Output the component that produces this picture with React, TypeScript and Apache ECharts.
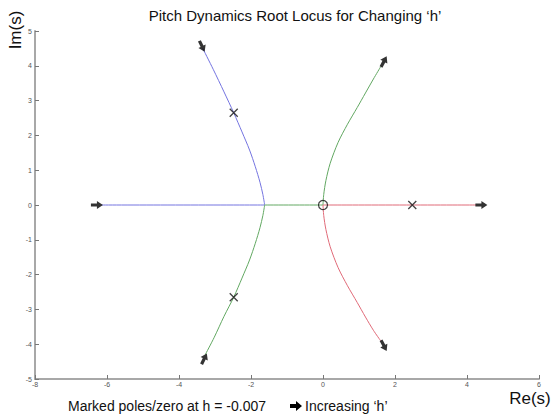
import React, { useEffect, useRef } from "react";
import * as echarts from "echarts";

const titleText = "Pitch Dynamics Root Locus for Changing \u2018h\u2019";
const noteText = "Marked poles/zero at h = -0.007";
const legendText = "Increasing \u2018h\u2019";

const blueCurve = [[-3.34, 4.5], [-3.05, 3.9], [-2.75, 3.25], [-2.48, 2.65], [-2.25, 2.1], [-2.04, 1.58], [-1.88, 1.1], [-1.75, 0.65], [-1.67, 0.3], [-1.62, 0]];
const blueAxis = [[-6.15, 0], [-1.62, 0]];
const greenCurveLeft = [[-1.62, 0], [-1.67, -0.3], [-1.75, -0.65], [-1.88, -1.1], [-2.04, -1.58], [-2.25, -2.1], [-2.48, -2.65], [-2.75, -3.2], [-3.02, -3.8], [-3.27, -4.3]];
const greenAxis = [[-1.62, 0], [0, 0]];
const greenCurveRight = [[0, 0], [0.02, 0.3], [0.08, 0.7], [0.2, 1.2], [0.42, 1.8], [0.68, 2.32], [0.95, 2.8], [1.18, 3.22], [1.4, 3.62], [1.6, 3.97]];
const redCurve = [[0, 0], [0.02, -0.3], [0.08, -0.7], [0.2, -1.2], [0.42, -1.8], [0.68, -2.32], [0.95, -2.8], [1.18, -3.22], [1.4, -3.6], [1.6, -3.9]];
const redAxis = [[0, 0], [4.25, 0]];

const poles = [[-2.48, 2.65], [-2.48, -2.65], [2.48, 0]];
const zeros = [[0, 0]];
// x, y, direction (degrees)
const arrows = [[-6.28, 0, 0], [4.4, 0, 0], [-3.36, 4.56, -64], [-3.3, -4.42, 64], [1.69, 4.12, 62], [1.69, -4.04, -62]];

const BLUE = "#7474e0";
const GREEN = "#62a862";
const RED = "#e06a78";
const ARROW = "path://M0,3L6,3L6,0L12,5L6,10L6,7L0,7Z";
const FONT = "Liberation Sans, Arial, sans-serif";

function lineSeries(data: number[][], color: string) {
  return {
    type: "line",
    data,
    showSymbol: false,
    symbol: "none",
    smooth: 0.3,
    lineStyle: { color, width: 1 },
    z: 2,
  };
}

export default function App() {
  const ref = useRef<HTMLDivElement>(null);
  useEffect(() => {
    if (!ref.current) return;
    const chart = echarts.init(ref.current, null, { renderer: "svg" });
    chart.setOption({
      animation: false,
      backgroundColor: "#ffffff",
      grid: { left: 35, right: 16, top: 31, bottom: 38, containLabel: false },
      title: {
        text: titleText,
        left: 290,
        top: 3,
        textAlign: "center",
        textStyle: { fontFamily: FONT, fontSize: 15, fontWeight: "normal", color: "#111" },
      },
      xAxis: {
        type: "value",
        min: -8,
        max: 6,
        interval: 2,
        splitLine: { show: false },
        axisLine: { onZero: false, lineStyle: { color: "#a8a8a8", width: 2 } },
        axisTick: { inside: true, length: 4, lineStyle: { color: "#777", width: 1 } },
        axisLabel: { fontSize: 7, color: "#555", margin: 2, fontFamily: FONT },
      },
      yAxis: {
        type: "value",
        min: -5,
        max: 5,
        interval: 1,
        splitLine: { show: false },
        axisLine: { onZero: false, lineStyle: { color: "#a8a8a8", width: 2 } },
        axisTick: { inside: true, length: 4, lineStyle: { color: "#777", width: 1 } },
        axisLabel: { fontSize: 7, color: "#555", margin: 3, fontFamily: FONT },
      },
      graphic: [
        {
          type: "text",
          x: 15,
          y: 30,
          rotation: Math.PI / 2,
          style: { text: "Im(s)", fontSize: 17, fontFamily: FONT, fill: "#111", align: "center", verticalAlign: "middle" },
        },
        {
          type: "text",
          x: 530,
          y: 398,
          style: { text: "Re(s)", fontSize: 17, fontFamily: FONT, fill: "#111", align: "center", verticalAlign: "middle" },
        },
        {
          type: "text",
          x: 68,
          y: 406,
          style: { text: noteText, fontSize: 14, fontFamily: FONT, fill: "#111", align: "left", verticalAlign: "middle" },
        },
        {
          type: "polygon",
          shape: { points: [[290, 404], [296, 404], [296, 401], [302, 406], [296, 411], [296, 408], [290, 408]] },
          style: { fill: "#000" },
        },
        {
          type: "text",
          x: 305,
          y: 406,
          style: { text: legendText, fontSize: 14, fontFamily: FONT, fill: "#111", align: "left", verticalAlign: "middle" },
        },
      ],
      series: [
        lineSeries(blueAxis, BLUE),
        lineSeries(blueCurve, BLUE),
        lineSeries(greenAxis, GREEN),
        lineSeries(greenCurveLeft, GREEN),
        lineSeries(greenCurveRight, GREEN),
        lineSeries(redAxis, RED),
        lineSeries(redCurve, RED),
        {
          type: "scatter",
          data: poles,
          symbol: "path://M0,0L10,10M10,0L0,10",
          symbolSize: 8,
          itemStyle: { color: "none", borderColor: "#111", borderWidth: 1.3 },
          z: 5,
        },
        {
          type: "scatter",
          data: zeros,
          symbol: "circle",
          symbolSize: 9,
          itemStyle: { color: "none", borderColor: "#111", borderWidth: 1.2 },
          z: 5,
        },
        {
          type: "scatter",
          data: arrows.map((a) => ({ value: [a[0], a[1]], symbolRotate: a[2] })),
          symbol: ARROW,
          symbolSize: [12, 8],
          itemStyle: { color: "#000" },
          z: 6,
        },
      ],
    });
    return () => chart.dispose();
  }, []);
  return <div ref={ref} style={{ position: "fixed", left: 0, top: 0, width: 555, height: 417 }} />;
}
